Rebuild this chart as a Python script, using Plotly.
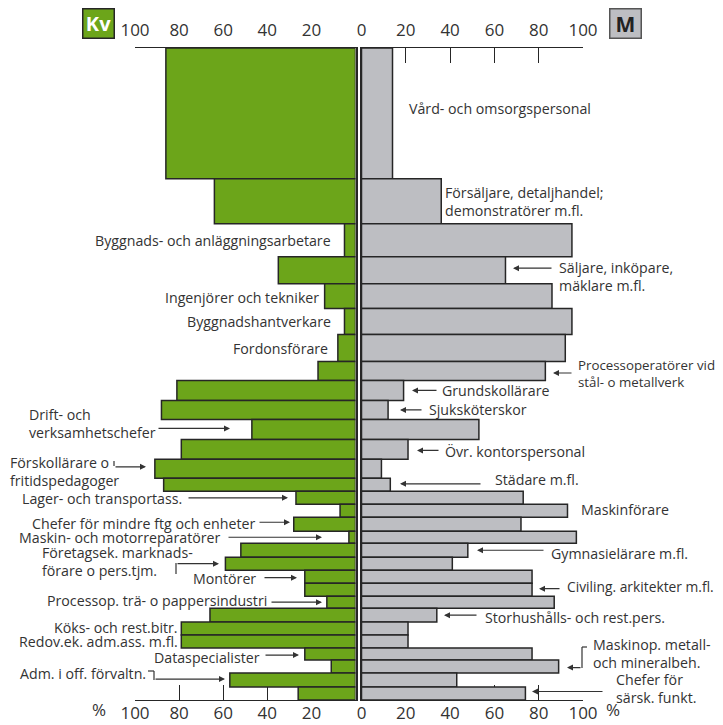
import numpy as np
import plotly.graph_objects as go

# %% Data (andel kvinnor / män i procent, radhöjd = relativt antal anställda)
yrken = [
    "Vård- och omsorgspersonal", "Försäljare, detaljhandel; demonstratörer m.fl.",
    "Byggnads- och anläggningsarbetare", "Säljare, inköpare, mäklare m.fl.",
    "Ingenjörer och tekniker", "Byggnadshantverkare", "Fordonsförare",
    "Processoperatörer vid stål- o metallverk", "Grundskollärare", "Sjuksköterskor",
    "Drift- och verksamhetschefer", "Övr. kontorspersonal",
    "Förskollärare o fritidspedagoger", "Städare m.fl.", "Lager- och transportass.",
    "Maskinförare", "Chefer för mindre ftg och enheter", "Maskin- och motorreparatörer",
    "Gymnasielärare m.fl.", "Företagsek. marknadsförare o pers.tjm.", "Montörer",
    "Civiling. arkitekter m.fl.", "Processop. trä- o pappersindustri",
    "Storhushålls- och rest.pers.", "Köks- och rest.bitr.", "Redov.ek. adm.ass. m.fl.",
    "Dataspecialister", "Maskinop. metall- och mineralbeh.", "Adm. i off. förvaltn.",
    "Chefer för särsk. funkt.",
]
kvinnor = [86, 64, 5, 35, 14, 5, 8, 17, 81, 88, 47, 79, 91, 87, 27, 7, 28, 3, 52, 59,
           23, 23, 13, 66, 79, 79, 23, 11, 57, 26]
man = [14, 36, 95, 65, 86, 95, 92, 83, 19, 12, 53, 21, 9, 13, 73, 93, 72, 97, 48, 41,
       77, 77, 87, 34, 21, 21, 77, 89, 43, 74]
antal = [131, 45, 33, 27, 25, 26, 27, 19, 20, 19, 20, 20, 19, 13, 13, 13, 14, 12, 14, 13,
         13, 13, 12, 14, 13, 13, 12, 13, 14, 13]

tick_procent = [0, 20, 40, 60, 80, 100]

# %% Geometry helpers (page body has an 8px margin, so the figure is drawn 8px in)
OFF = 8
W, H = 723 - OFF, 725 - OFF
GREEN = "#6ca51a"
GREY = "#bdbec2"
EDGE = "#262626"
TXT = "#333333"
FONT = "Open Sans"
FS = 14.2

def fx(px):
    return (px - OFF) / W

def fy(px):
    return 1 - (px - OFF) / H

antal = np.array(antal)
total = antal.sum()
mitt = np.cumsum(antal) - antal / 2

# %% Figure
fig = go.Figure()

fig.add_trace(go.Bar(
    y=mitt, x=kvinnor, width=antal, orientation="h",
    marker=dict(color=GREEN, line=dict(color=EDGE, width=1.5)),
    xaxis="x", yaxis="y", hovertext=yrken, name="Kv", showlegend=False,
))
fig.add_trace(go.Bar(
    y=mitt, x=man, width=antal, orientation="h",
    marker=dict(color=GREY, line=dict(color=EDGE, width=1.5)),
    xaxis="x2", yaxis="y2", hovertext=yrken, name="M", showlegend=False,
))
# empty traces so the top label axes get drawn
fig.add_trace(go.Scatter(x=[None], y=[None], xaxis="x3", yaxis="y", showlegend=False, hoverinfo="skip"))
fig.add_trace(go.Scatter(x=[None], y=[None], xaxis="x4", yaxis="y2", showlegend=False, hoverinfo="skip"))

tickfont = dict(family=FONT, size=17, color=TXT)
base_x = dict(
    showgrid=False, zeroline=False, showline=True, linecolor=EDGE, linewidth=1.3,
    mirror="ticks", ticks="inside", ticklen=15, tickwidth=1.3, tickcolor=EDGE,
    tickvals=tick_procent, tickfont=tickfont, layer="below traces", fixedrange=True,
    automargin=False, ticklabelstandoff=-3,
)
top_x = dict(
    side="top", showgrid=False, zeroline=False, showline=False, ticks="",
    tickvals=tick_procent, tickfont=tickfont, ticklabelstandoff=8, automargin=False,
)
base_y = dict(
    range=[total, 0], showgrid=False, zeroline=False, showticklabels=False,
    ticks="", showline=True, linecolor=EDGE, linewidth=2, automargin=False,
)

left_dom = [fx(135), fx(355.5)]
right_dom = [fx(361.5), fx(583)]
y_dom = [fy(700), fy(48)]

fig.update_layout(
    width=W, height=H, autosize=False,
    margin=dict(l=0, r=0, t=0, b=0, pad=0),
    paper_bgcolor="white", plot_bgcolor="white",
    barmode="overlay", showlegend=False,
    font=dict(family=FONT, size=FS, color=TXT),
    xaxis=dict(base_x, domain=left_dom, range=[100, 0], anchor="y",
               ticktext=["", "20", "40", "60", "80", "100"]),
    xaxis2=dict(base_x, domain=right_dom, range=[0, 100], anchor="y2",
                ticktext=["0", "20", "40", "60", "80", "100"]),
    xaxis3=dict(top_x, overlaying="x", range=[100, 0], anchor="y",
                ticktext=["", "20", "40", "60", "80", "100"]),
    xaxis4=dict(top_x, overlaying="x2", range=[0, 100], anchor="y2",
                ticktext=["0", "20", "40", "60", "80", "100"]),
    yaxis=dict(base_y, domain=y_dom, anchor="x", side="right"),
    yaxis2=dict(base_y, domain=y_dom, anchor="x2", side="left", matches="y"),
)

# %% Labels: (text, row, x in px, xanchor, yshift, font size)
labels = [
    ("Vård- och omsorgspersonal", 0, 407, "left", 5, FS),
    ("Försäljare, detaljhandel;<br>demonstratörer m.fl.", 1, 443, "left", 0, FS),
    ("Säljare, inköpare,<br>mäklare m.fl.", 3, 557, "left", -6, FS),
    ("Processoperatörer vid<br>stål- o metallverk", 7, 576, "left", -2, 13.3),
    ("Grundskollärare", 8, 440, "left", 0, FS),
    ("Sjuksköterskor", 9, 427, "left", 0, FS),
    ("Övr. kontorspersonal", 11, 443, "left", -2, FS),
    ("Städare m.fl.", 13, 493, "left", 5, FS),
    ("Maskinförare", 15, 579, "left", 1, FS),
    ("Gymnasielärare m.fl.", 18, 549, "left", -3, FS),
    ("Civiling. arkitekter m.fl.", 21, 565, "left", 3, 13.8),
    ("Storhushålls- och rest.pers.", 23, 483, "left", -2, FS),
    ("Maskinop. metall-<br>och mineralbeh.", 27, 591, "left", 13, FS),
    ("Chefer för<br>särsk. funkt.", 29, 614, "left", 5, FS),
    ("Byggnads- och anläggningsarbetare", 2, 333, "right", 0, FS),
    ("Ingenjörer och tekniker", 4, 321, "right", -1, FS),
    ("Byggnadshantverkare", 5, 333, "right", 0, FS),
    ("Fordonsförare", 6, 330, "right", 0, FS),
    ("Drift- och<br>verksamhetschefer", 10, 27, "left", 6, FS),
    ("Förskollärare o<br>fritidspedagoger", 12, 8, "left", -3, FS),
    ("Lager- och transportass.", 14, 184, "right", -1, FS),
    ("Chefer för mindre ftg och enheter", 16, 257, "right", 1, FS),
    ("Maskin- och motorreparatörer", 17, 223, "right", 0, FS),
    ("Företagsek. marknads-<br>förare o pers.tjm.", 19, 40, "left", 2, FS),
    ("Montörer", 20, 258, "right", -2, FS),
    ("Processop. trä- o pappersindustri", 22, 269, "right", 2, FS),
    ("Köks- och rest.bitr.", 24, 180, "right", 1, FS),
    ("Redov.ek. adm.ass. m.fl.", 25, 180, "right", 0, FS),
    ("Dataspecialister", 26, 262, "right", -3, FS),
    ("Adm. i off. förvaltn.", 28, 148, "right", 7, FS),
]
for text, row, x, xa, ys, size in labels:
    fig.add_annotation(
        text=text, x=fx(x), xref="paper", y=mitt[row], yref="y",
        xanchor=xa, yanchor="middle", align=xa, yshift=ys, showarrow=False,
        font=dict(family=FONT, size=size, color=TXT),
    )

# %% Arrows: (row, tail px, head px, yshift)
arrows = [
    (3, 553, 513, 2), (7, 573, 553, -2), (8, 438, 412, 0), (9, 423, 400, 0),
    (11, 440, 417, -1), (13, 482, 400, 1), (18, 545, 477, 0), (21, 561, 539, 1),
    (23, 478, 444, 0), (27, 582, 567, -1), (29, 604, 532, 2),
    (10, 157, 230, 1), (12, 114, 146, 2), (14, 187, 288, 0), (16, 258, 290, 2),
    (17, 227, 322, 0), (19, 176, 219, 0), (20, 263, 297, -1), (22, 270, 322, 0),
    (26, 264, 299, -1), (28, 154, 225, 1),
]
for row, tail, head, ys in arrows:
    fig.add_annotation(
        text="", x=fx(head), xref="paper", y=mitt[row], yref="y",
        ax=tail - head, ay=0, showarrow=True, arrowhead=2, arrowsize=1,
        arrowwidth=1.2, arrowcolor=TXT, yshift=ys, standoff=0, startstandoff=0,
    )

# %% Bracket connectors
line_style = dict(color=TXT, width=1.2)
for x0, y0, x1, y1 in [
    (114, 461, 114, 466),
    (176, 563, 176, 574),
    (148, 671, 154, 671), (154, 671, 154, 680),
    (582, 647, 587, 647), (582, 647, 582, 668),
]:
    fig.add_shape(type="line", xref="paper", yref="paper",
                  x0=fx(x0), y0=fy(y0), x1=fx(x1), y1=fy(y1), line=line_style)

# %% Percent signs and legend boxes
for x, y in [(99, 709), (613, 709)]:
    fig.add_annotation(text="%", x=fx(x), y=fy(y), xref="paper", yref="paper",
                       xanchor="center", yanchor="middle", showarrow=False, font=tickfont)

fig.add_annotation(text="<b>Kv</b>", x=fx(98), y=fy(23), xref="paper", yref="paper",
                   xanchor="center", yanchor="middle",
                   showarrow=False, width=30, height=28, bgcolor=GREEN,
                   bordercolor=EDGE, borderwidth=1.5, borderpad=0,
                   font=dict(family=FONT, size=20, color="white"))
fig.add_annotation(text="<b>M</b>", x=fx(625), y=fy(23), xref="paper", yref="paper",
                   xanchor="center", yanchor="middle",
                   showarrow=False, width=30, height=28, bgcolor=GREY,
                   bordercolor="#555555", borderwidth=1.5, borderpad=0,
                   font=dict(family=FONT, size=21, color="#222222"))

fig.write_html("out.html", config={"responsive": False})
